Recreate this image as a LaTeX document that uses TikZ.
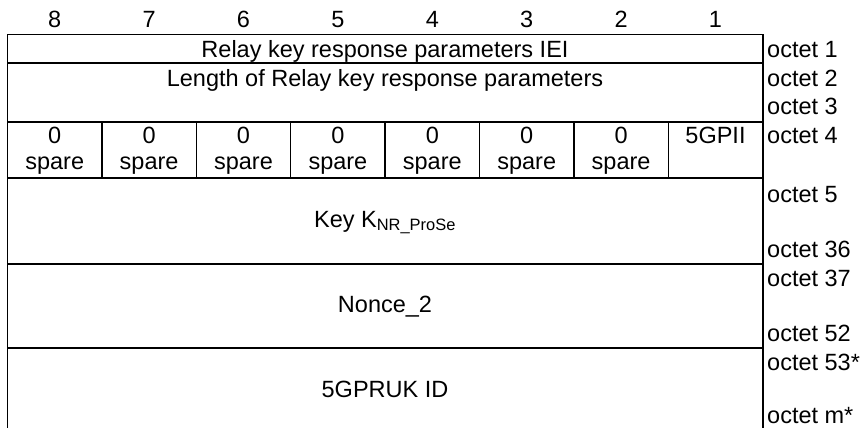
\documentclass[tikz,border=0pt]{standalone}
\usepackage{fontspec}
\setmainfont{Liberation Sans}
\begin{document}
\begin{tikzpicture}[x=1pt, y=-1pt,
    ieLineStyle/.style={line width=1.3pt},
    ieTextStyle/.style={inner sep=0pt, anchor=base, font=\fontsize{23.5}{28}\selectfont},
    ieOctetStyle/.style={ieTextStyle, anchor=base west}]
    \useasboundingbox (0,0) rectangle (865,428);

    % Bit numbers
    \foreach \b in {1,...,8}
        \node[ieTextStyle] (bit\b) at ({7.5+94.4*(8-\b)+47.2}, 28) {\b};

    % Frame and row lines
    \draw[ieLineStyle] (7.5,428) -- (7.5,34.5) -- (763,34.5) -- (763,428);
    \foreach \y in {63,122,178,264,348}
        \draw[ieLineStyle] (7.5,\y) -- (763,\y);
    \foreach \i in {1,...,7}
        \draw[ieLineStyle] ({7.5+94.4*\i},122) -- ({7.5+94.4*\i},178);

    % Field contents
    \node[ieTextStyle] (iei) at (385, 58) {Relay key response parameters IEI};
    \node[ieTextStyle] (len) at (385, 86) {Length of Relay key response parameters};
    \foreach \b in {2,...,8} {
        \node[ieTextStyle] (zero\b) at ({7.5+94.4*(8-\b)+47.2}, 143) {0};
        \node[ieTextStyle] (spare\b) at ({7.5+94.4*(8-\b)+47.2}, 169) {spare};
    }
    \node[ieTextStyle] (gpii) at ({7.5+94.4*7+47.2}, 143) {5GPII};
    \node[ieTextStyle] (key) at (385, 227) {Key K\textsubscript{NR\_ProSe}};
    \node[ieTextStyle] (nonce) at (385, 312) {Nonce\_2};
    \node[ieTextStyle] (pruk) at (385, 397) {5GPRUK ID};

    % Octet numbers
    \node[ieOctetStyle] (oct1) at (767, 58) {octet 1};
    \node[ieOctetStyle] (oct2) at (767, 86) {octet 2};
    \node[ieOctetStyle] (oct3) at (767, 114) {octet 3};
    \node[ieOctetStyle] (oct4) at (767, 143) {octet 4};
    \node[ieOctetStyle] (oct5) at (767, 202) {octet 5};
    \node[ieOctetStyle] (oct36) at (767, 257) {octet 36};
    \node[ieOctetStyle] (oct37) at (767, 286) {octet 37};
    \node[ieOctetStyle] (oct52) at (767, 341) {octet 52};
    \node[ieOctetStyle] (oct53) at (767, 370) {octet 53*};
    \node[ieOctetStyle] (octm) at (767, 423) {octet m*};
\end{tikzpicture}
\end{document}
